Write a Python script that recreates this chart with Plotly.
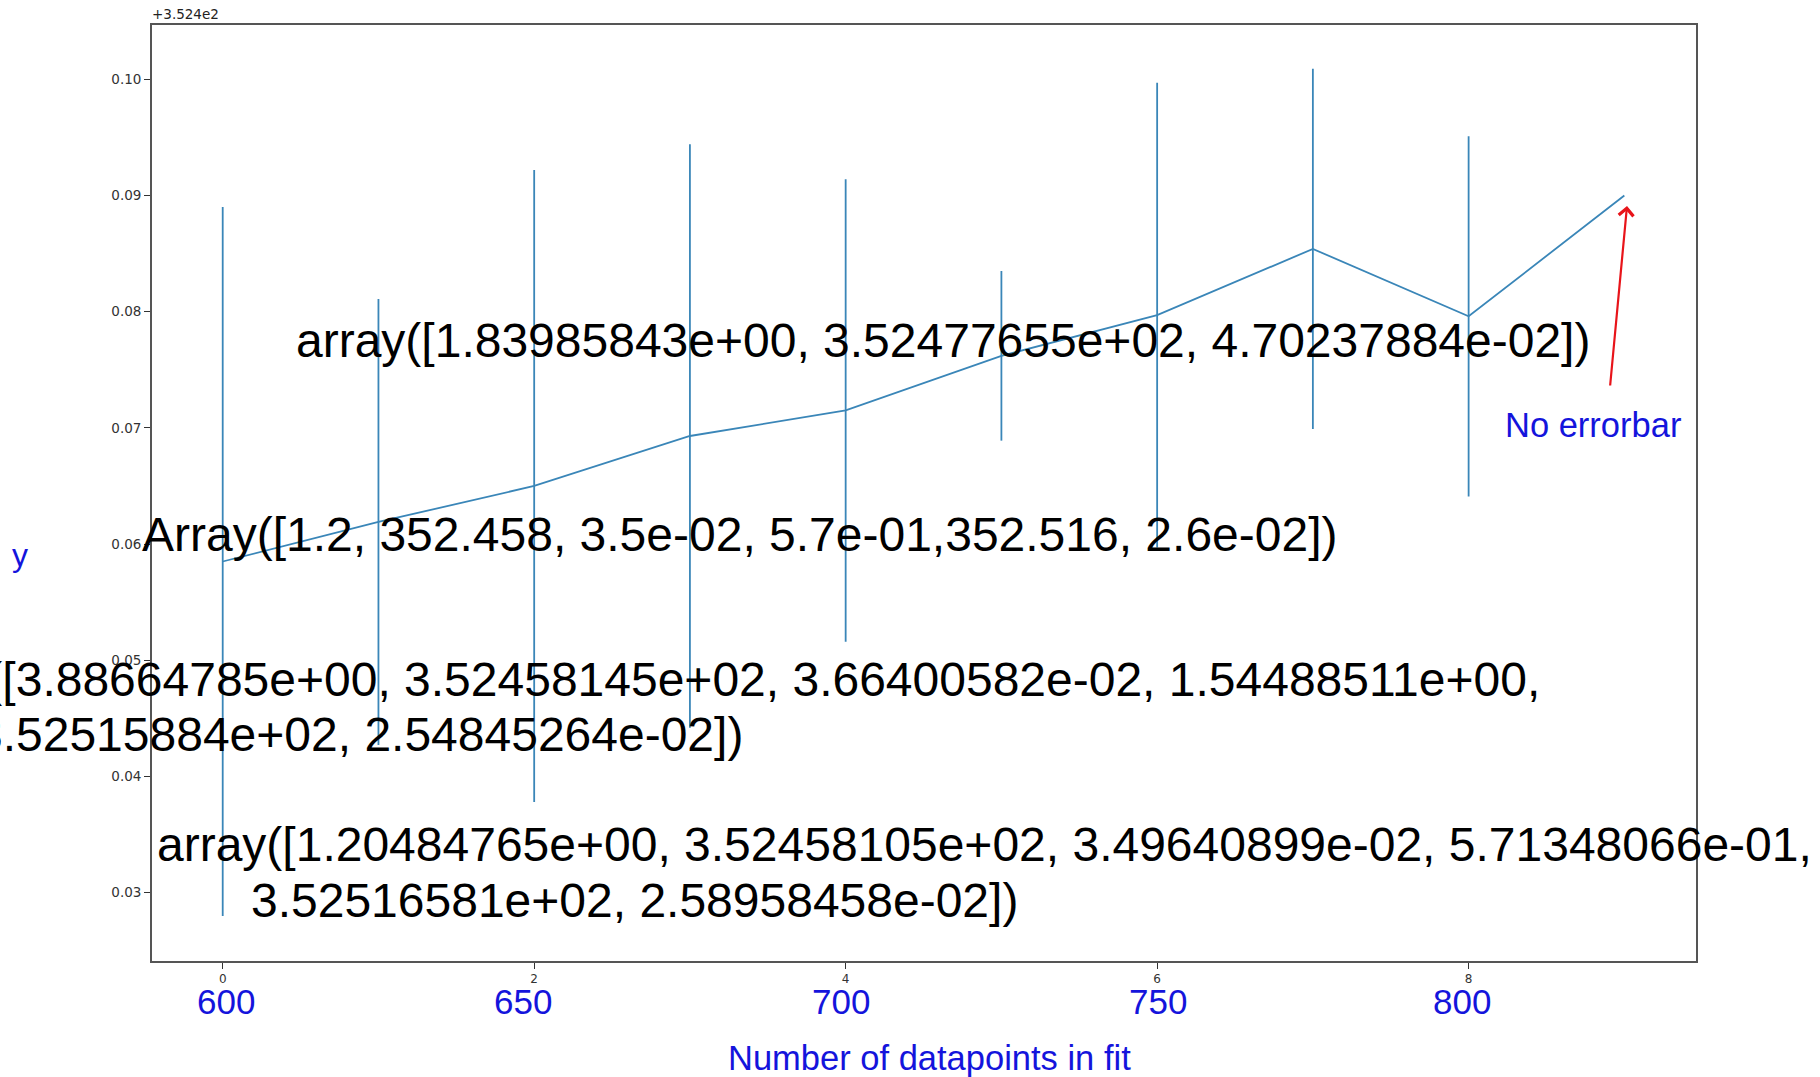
import plotly.graph_objects as go

# ---------------- data ----------------
x_index = [0, 1, 2, 3, 4, 5, 6, 7, 8, 9]
y_offset_values = [0.0585, 0.0619, 0.0650, 0.0693, 0.0715, 0.0762, 0.0797, 0.0854, 0.0796, 0.0900]
y_errors = [0.0305, 0.0192, 0.0272, 0.0251, 0.0199, 0.0073, 0.0200, 0.0155, 0.0155, 0.0]

y_tick_values = [0.03, 0.04, 0.05, 0.06, 0.07, 0.08, 0.09, 0.10]
x_tick_values = [0, 2, 4, 6, 8]
offset_label = "+3.524e2"

blue_x_labels = ["600", "650", "700", "750", "800"]
x_title = "Number of datapoints in fit"
y_title = "y"
arrow_note = "No errorbar"

fit_text_1 = "array([1.83985843e+00, 3.52477655e+02, 4.70237884e-02])"
fit_text_2 = "Array([1.2, 352.458, 3.5e-02, 5.7e-01,352.516, 2.6e-02])"
fit_text_3 = ["array([3.88664785e+00, 3.52458145e+02, 3.66400582e-02, 1.54488511e+00,",
              "3.52515884e+02, 2.54845264e-02])"]
fit_text_4 = ["array([1.20484765e+00, 3.52458105e+02, 3.49640899e-02, 5.71348066e-01,",
              "3.52516581e+02, 2.58958458e-02])"]

# ---------------- layout geometry ----------------
W, H = 1820, 1077
L, R, T, B = 152, 1696, 25, 961   # plot area in pixels


def px(xp):
    return (xp - L) / (R - L)


def py(yp):
    return (B - yp) / (B - T)


BLUE = "#1414dc"
TEXT_FONT = "Liberation Sans, Arial, Helvetica, sans-serif"
MPL_FONT = "DejaVu Sans, sans-serif"
BIG = 48

fig = go.Figure()
fig.add_trace(go.Scatter(
    x=x_index, y=y_offset_values, mode="lines",
    line=dict(color="#3a86b8", width=1.8),
    error_y=dict(type="data", array=y_errors, visible=True,
                 color="#3a86b8", thickness=1.8, width=0),
    showlegend=False, hoverinfo="skip",
))

annotations = []


def add_text(text, xp, yp, size, color="black", xanchor="left", family=TEXT_FONT):
    annotations.append(dict(
        text=text, x=px(xp), y=py(yp), xref="paper", yref="paper",
        xanchor=xanchor, yanchor="middle", showarrow=False,
        font=dict(size=size, color=color, family=family),
    ))


# offset text of matplotlib axis
add_text(offset_label, 150, 14, 13.5, color="#222", family=MPL_FONT)

# big black annotations
add_text(fit_text_1, 294, 340, BIG)
add_text(fit_text_2, 140, 534, BIG)
add_text(fit_text_3[0], 1542, 679, BIG, xanchor="right")
add_text(fit_text_3[1], 745, 734, BIG, xanchor="right")
add_text(fit_text_4[0], 155, 844, BIG)
add_text(fit_text_4[1], 249, 900, BIG)

# blue labels
blue_pos = [226, 523, 841, 1158, 1462]
for lab, xp in zip(blue_x_labels, blue_pos):
    add_text(lab, xp, 1001, 35, color=BLUE, xanchor="center")
add_text(x_title, 929, 1058, 34.5, color=BLUE, xanchor="center")
add_text(y_title, 20, 555, 32, color=BLUE, xanchor="center")
add_text(arrow_note, 1593, 425, 34.5, color=BLUE, xanchor="center")

# red arrow
annotations.append(dict(
    x=px(1627), y=py(206), xref="paper", yref="paper", text="",
    showarrow=True, ax=-17, ay=181, arrowhead=4, arrowsize=1.3,
    arrowwidth=2.2, arrowcolor="#e8141a",
))

fig.update_layout(
    width=W, height=H,
    margin=dict(l=L, r=W - R, t=T, b=H - B),
    paper_bgcolor="white", plot_bgcolor="white",
    annotations=annotations,
    xaxis=dict(
        range=[-0.454, 9.46], tickvals=x_tick_values,
        ticktext=[str(v) for v in x_tick_values],
        ticks="outside", ticklen=6, tickwidth=1.2, tickcolor="#333",
        showline=True, mirror=True, linecolor="#555", linewidth=1.8,
        showgrid=False, zeroline=False,
        tickfont=dict(family=MPL_FONT, size=12, color="#333"),
    ),
    yaxis=dict(
        range=[0.02412, 0.10467], tickvals=y_tick_values,
        ticktext=["%.2f" % v for v in y_tick_values],
        ticks="outside", ticklen=6, tickwidth=1.2, tickcolor="#333",
        showline=True, mirror=True, linecolor="#555", linewidth=1.8,
        showgrid=False, zeroline=False,
        tickfont=dict(family=MPL_FONT, size=13.5, color="#333"),
    ),
)

fig.write_html("out.html", config={"displayModeBar": False})
